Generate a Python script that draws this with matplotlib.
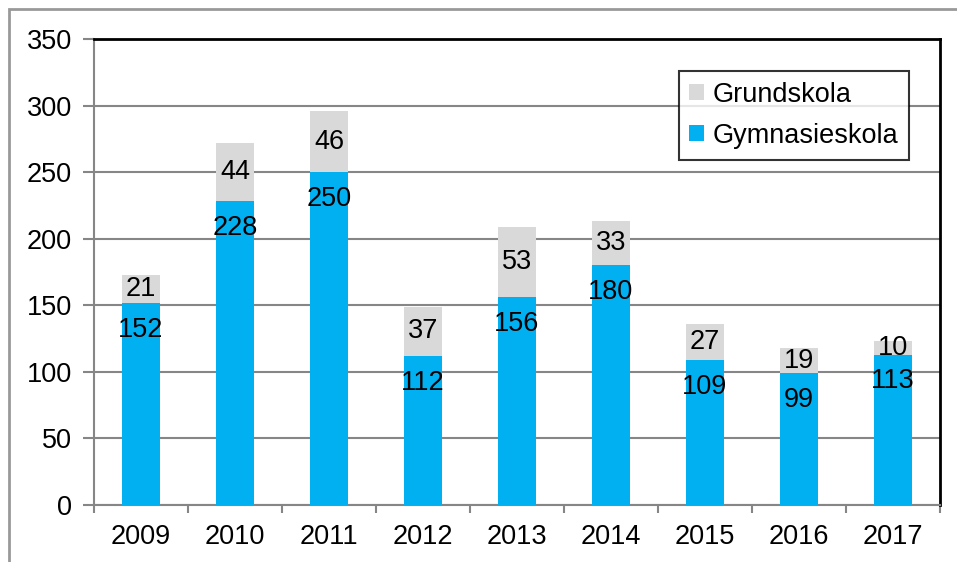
import matplotlib
matplotlib.use("Agg")
from matplotlib import pyplot as plt
from matplotlib.patches import Rectangle
import numpy as np

years = ["2009", "2010", "2011", "2012", "2013", "2014", "2015", "2016", "2017"]
gymnasieskola = [152, 228, 250, 112, 156, 180, 109, 99, 113]
grundskola = [21, 44, 46, 37, 53, 33, 27, 19, 10]

BLUE = "#00B0F0"
GREY = "#D9D9D9"
AXIS_GREY = "#868686"
FS = 19.5

plt.rcParams['font.family'] = ['Liberation Sans', 'DejaVu Sans']

W, H = 957, 562
fig = plt.figure(figsize=(W / 100, H / 100), dpi=100)
ax = fig.add_axes([94 / W, 1 - 505 / H, (940 - 94) / W, (505 - 39) / H])

x = np.arange(len(years))
b1 = ax.bar(x, gymnasieskola, width=0.4, color=BLUE, label="Gymnasieskola", zorder=3)
b2 = ax.bar(x, grundskola, width=0.4, bottom=gymnasieskola, color=GREY, label="Grundskola", zorder=3)

# labels: blue ones at inside end, grey ones centred
for xi, g, s in zip(x, gymnasieskola, grundskola):
    ax.annotate(str(g), (xi, g), xytext=(0, -10), textcoords="offset points",
                ha="center", va="top", fontsize=FS, zorder=4)
    ax.text(xi, g + s / 2, str(s), ha="center", va="center", fontsize=FS, zorder=4)

ax.set_xlim(-0.5, len(years) - 0.5)
ax.set_ylim(0, 350)
ax.set_yticks(range(0, 351, 50))
ax.set_xticks(x)
ax.set_xticklabels(years)
ax.set_xticks(np.arange(-0.5, len(years), 1), minor=True)
ax.tick_params(axis="x", which="major", length=0, pad=14, labelsize=FS)
ax.tick_params(axis="x", which="minor", length=6, color=AXIS_GREY, width=1.5)
ax.tick_params(axis="y", length=8, color=AXIS_GREY, width=1.5, pad=8, labelsize=FS)
ax.yaxis.grid(True, color=AXIS_GREY, linewidth=1.5, zorder=0)

ax.spines["left"].set_color(AXIS_GREY)
ax.spines["bottom"].set_color(AXIS_GREY)
ax.spines["left"].set_linewidth(1.5)
ax.spines["bottom"].set_linewidth(1.5)
ax.spines["top"].set_color("black")
ax.spines["right"].set_color("black")
ax.spines["top"].set_linewidth(2)
ax.spines["right"].set_linewidth(2)

leg = ax.legend(handles=[b2, b1], labels=["Grundskola", "Gymnasieskola"],
                loc="upper right", bbox_to_anchor=((909 - 94) / (940 - 94), (505 - 71) / (505 - 39)),
                fontsize=FS, frameon=True, fancybox=False, handlelength=0.55, handleheight=0.55,
                handletextpad=0.3, borderpad=0.4, labelspacing=0.55, borderaxespad=0)
leg.get_frame().set_edgecolor("black")
leg.get_frame().set_linewidth(1.5)

# outer chart border
fig.patches.append(Rectangle((9 / W, -0.1), 1.2, 1 - 9 / H + 0.1, transform=fig.transFigure,
                             fill=False, edgecolor="#999999", linewidth=2))

fig.savefig("out.png", dpi=100)
